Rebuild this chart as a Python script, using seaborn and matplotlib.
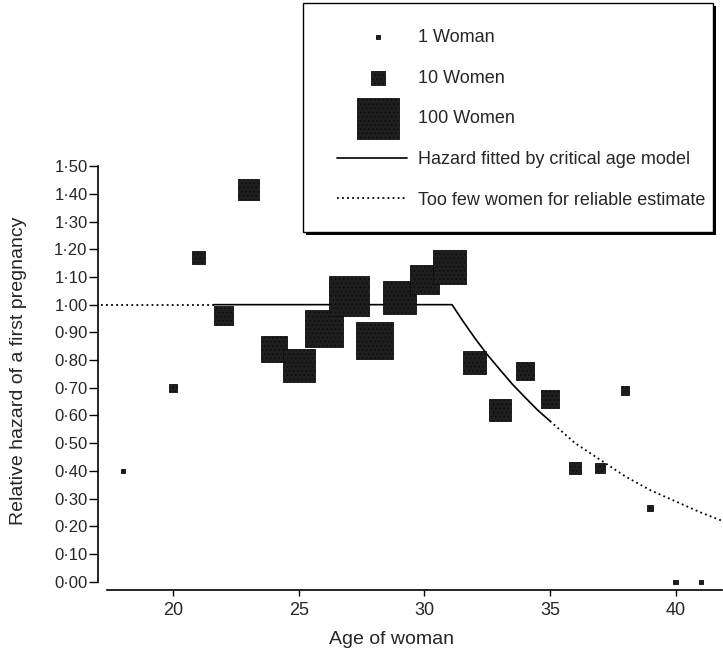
"""
Relative hazard of a first pregnancy by age of woman
"""

# =========================
# IMPORT LIBRARIES
# =========================
import numpy as np
import pandas as pd
import matplotlib.pyplot as plt
import matplotlib.patches as mpatches
from matplotlib.lines import Line2D
from matplotlib.collections import PathCollection
from matplotlib.legend_handler import HandlerPathCollection
from matplotlib.ticker import FuncFormatter
import seaborn as sns

# =========================
# DATA
# =========================
ages = [18, 20, 21, 22, 23, 24, 25, 26, 27, 28, 29, 30,
        31, 32, 33, 34, 35, 36, 37, 38, 39, 40, 41]
hazard = [0.40, 0.70, 1.17, 0.96, 1.415, 0.84, 0.78, 0.915, 1.03, 0.87, 1.025, 1.09,
          1.135, 0.79, 0.62, 0.76, 0.66, 0.41, 0.41, 0.69, 0.265, 0.00, 0.00]
women = [1, 4, 9, 21, 26, 40, 61, 80, 92, 80, 63, 49,
         66, 30, 28, 18, 18, 9, 6, 4, 2, 1, 1]

# fitted critical age model
curve_age = [17.1, 21.6, 31.1, 31.5, 32.0, 32.5, 33.0, 33.5, 34.0, 34.5, 35.0,
             36.0, 37.0, 38.0, 39.0, 40.0, 41.0, 41.85]
curve_hazard = [1.00, 1.00, 1.00, 0.945, 0.88, 0.82, 0.766, 0.713, 0.666, 0.62, 0.58,
                0.50, 0.44, 0.38, 0.33, 0.29, 0.25, 0.22]
reliable_from, reliable_to = 21.6, 35.0

legend_women = [1, 10, 100]
legend_labels = ["1 Woman", "10 Women", "100 Women",
                 "Hazard fitted by critical age model",
                 "Too few women for reliable estimate"]

y_ticks = [0.0, 0.1, 0.2, 0.3, 0.4, 0.5, 0.6, 0.7, 0.8, 0.9, 1.0, 1.1, 1.2, 1.3, 1.4, 1.5]
x_ticks = [20, 25, 30, 35, 40]

df = pd.DataFrame({"age": ages, "hazard": hazard, "women": women})
curve = pd.DataFrame({"age": curve_age, "hazard": curve_hazard})

# =========================
# STYLE
# =========================
sns.set_theme(style="ticks")
plt.rcParams["font.family"] = ["Liberation Sans", "DejaVu Sans"]
plt.rcParams["hatch.color"] = "#a8a8a8"
plt.rcParams["hatch.linewidth"] = 0.6

SQ_100 = 900.0          # marker area (pt^2) of a 100-women square
FACE = "#1f1f1f"
EDGE = "#0d0d0d"

fig = plt.figure(figsize=(7.23, 6.56), dpi=100)
ax = fig.add_axes([98 / 723, 1 - 590 / 656, 624 / 723, 429.4 / 656])

# =========================
# SQUARES (area ~ number of women)
# =========================
sns.scatterplot(data=df, x="age", y="hazard", size="women",
                sizes=(0, SQ_100), size_norm=(0, 100), marker="s",
                color=FACE, edgecolor=EDGE, linewidth=0.6, hatch="....",
                legend=False, clip_on=False, zorder=3, ax=ax)

# =========================
# FITTED CURVE
# =========================
solid = curve[(curve.age >= reliable_from) & (curve.age <= reliable_to)]
left_dot = curve[curve.age <= reliable_from]
right_dot = curve[curve.age >= reliable_to]

sns.lineplot(data=solid, x="age", y="hazard", color="black", lw=1.2,
             sort=False, estimator=None, ax=ax, zorder=2)
for part in (left_dot, right_dot):
    sns.lineplot(data=part, x="age", y="hazard", color="black", lw=1.3,
                 linestyle=(0, (1, 1.8)), sort=False, estimator=None, ax=ax, zorder=2)

# =========================
# AXES
# =========================
ax.set_xlim(17.0, 41.85)
ax.set_ylim(-0.03, 1.52)
ax.set_yticks(y_ticks)
ax.set_xticks(x_ticks)
ax.yaxis.set_major_formatter(FuncFormatter(lambda v, p: f"{v:.2f}".replace(".", "\u00b7")))
ax.tick_params(axis="y", labelsize=12, length=6.5, width=1, pad=1, color="black")
ax.tick_params(axis="x", labelsize=13, length=4.5, width=1, pad=4, color="black")

sns.despine(ax=ax)
ax.spines["left"].set_bounds(0, 1.5)
ax.spines["bottom"].set_bounds(17.37, 41.85)
for s in ("left", "bottom"):
    ax.spines[s].set_color("black")
    ax.spines[s].set_linewidth(1.2)

ax.set_xlabel("Age of woman", fontsize=14)
ax.set_ylabel("Relative hazard of a first pregnancy", fontsize=14)
ax.xaxis.set_label_coords(0.47, -0.096)
ax.yaxis.set_label_coords(-0.113, 0.51)

# =========================
# LEGEND (framed box with shadow)
# =========================
shadow = mpatches.Rectangle((306 / 723, 1 - 235 / 656), 410 / 723, 229 / 656,
                            transform=fig.transFigure, facecolor="black",
                            edgecolor="none", zorder=1)
frame = mpatches.Rectangle((303 / 723, 1 - 232 / 656), 410 / 723, 229 / 656,
                           transform=fig.transFigure, facecolor="white",
                           edgecolor="black", lw=1, zorder=1)
fig.add_artist(shadow)
fig.add_artist(frame)

handles = [ax.scatter([], [], marker="s", s=SQ_100 * n / 100, color=FACE,
                      edgecolor=EDGE, linewidth=0.6, hatch="....")
           for n in legend_women]
handles += [Line2D([], [], color="black", lw=1.2),
            Line2D([], [], color="black", lw=1.3, linestyle=(0, (1, 1.8)))]

fig.legend(handles, legend_labels, loc="upper left",
           bbox_to_anchor=(337 / 723, 1 - 29 / 656), frameon=False,
           borderpad=0, borderaxespad=0, fontsize=13, handlelength=3.88,
           handletextpad=0.6, labelspacing=1.31, scatterpoints=1,
           handler_map={PathCollection: HandlerPathCollection(xpad=0.66)})

plt.savefig("out.png", dpi=100)
